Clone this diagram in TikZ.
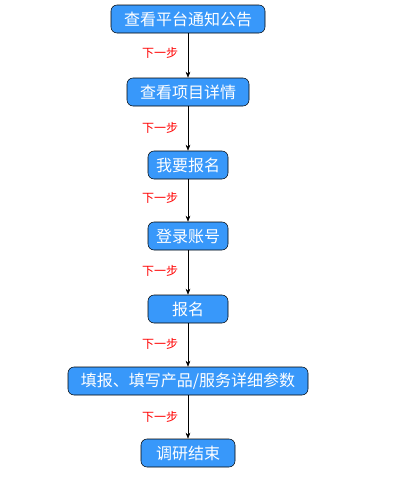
\documentclass[tikz,border=0pt]{standalone}
\usepackage{fontspec}
\setmainfont{Noto Sans CJK SC}
\usetikzlibrary{arrows.meta}
\definecolor{boxblue}{RGB}{56,152,250}
\begin{document}
\begin{tikzpicture}[x=0.75pt,y=-0.75pt]
		\tikzset{
			stepbox/.style={draw=black, fill=boxblue, rounded corners=4.5pt, text=white, font=\fontsize{12}{14}\selectfont, minimum height=21pt, inner sep=0pt},
			nextlabel/.style={text=red, font=\fontsize{9}{11}\selectfont},
			flow/.style={-{Stealth[length=4.5pt,width=3.5pt]}, thin}
		}
		\useasboundingbox (0,0) rectangle (404,479);
		\node[stepbox, minimum width=115.5pt] (notice) at (188,19) {查看平台通知公告};
		\node[stepbox, minimum width=91.5pt] (detail) at (188,92) {查看项目详情};
		\node[stepbox, minimum width=60pt] (apply) at (188,165) {我要报名};
		\node[stepbox, minimum width=60pt] (login) at (188,236) {登录账号};
		\node[stepbox, minimum width=60pt] (signup) at (188,309) {报名};
		\node[stepbox, minimum width=180pt] (fill) at (188,381) {填报、填写产品/服务详细参数};
		\node[stepbox, minimum width=70.5pt] (finish) at (188,453) {调研结束};
		\draw[flow] (notice) -- (detail);
		\draw[flow] (detail) -- (apply);
		\draw[flow] (apply) -- (login);
		\draw[flow] (login) -- (signup);
		\draw[flow] (signup) -- (fill);
		\draw[flow] (fill) -- (finish);
		\node[nextlabel] (next1) at (160,53) {下一步};
		\node[nextlabel] (next2) at (160,128) {下一步};
		\node[nextlabel] (next3) at (160,198) {下一步};
		\node[nextlabel] (next4) at (160,271) {下一步};
		\node[nextlabel] (next5) at (160,344) {下一步};
		\node[nextlabel] (next6) at (160,417) {下一步};
\end{tikzpicture}
\end{document}
